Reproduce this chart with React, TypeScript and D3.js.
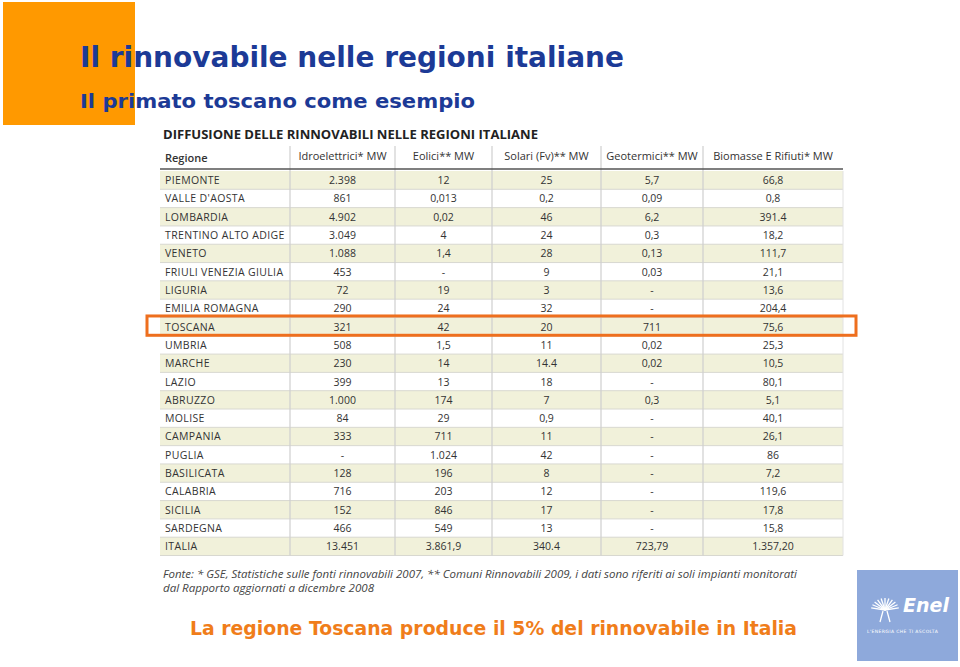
import React from "react";
import * as d3 from "d3";

const regions = [
  "PIEMONTE", "VALLE D'AOSTA", "LOMBARDIA", "TRENTINO ALTO ADIGE", "VENETO",
  "FRIULI VENEZIA GIULIA", "LIGURIA", "EMILIA ROMAGNA", "TOSCANA", "UMBRIA",
  "MARCHE", "LAZIO", "ABRUZZO", "MOLISE", "CAMPANIA", "PUGLIA", "BASILICATA",
  "CALABRIA", "SICILIA", "SARDEGNA", "ITALIA",
];
const columns = [
  "Idroelettrici* MW", "Eolici** MW", "Solari (Fv)** MW", "Geotermici** MW", "Biomasse E Rifiuti* MW",
];
const idroelettrici = ["2.398", "861", "4.902", "3.049", "1.088", "453", "72", "290", "321", "508", "230", "399", "1.000", "84", "333", "-", "128", "716", "152", "466", "13.451"];
const eolici = ["12", "0,013", "0,02", "4", "1,4", "-", "19", "24", "42", "1,5", "14", "13", "174", "29", "711", "1.024", "196", "203", "846", "549", "3.861,9"];
const solari = ["25", "0,2", "46", "24", "28", "9", "3", "32", "20", "11", "14.4", "18", "7", "0,9", "11", "42", "8", "12", "17", "13", "340.4"];
const geotermici = ["5,7", "0,09", "6,2", "0,3", "0,13", "0,03", "-", "-", "711", "0,02", "0,02", "-", "0,3", "-", "-", "-", "-", "-", "-", "-", "723,79"];
const biomasse = ["66,8", "0,8", "391.4", "18,2", "111,7", "21,1", "13,6", "204,4", "75,6", "25,3", "10,5", "80,1", "5,1", "40,1", "26,1", "86", "7,2", "119,6", "17,8", "15,8", "1.357,20"];
const highlighted = "TOSCANA";

const title = "Il rinnovabile nelle regioni italiane";
const subtitle = "Il primato toscano come esempio";
const tableTitle = "DIFFUSIONE DELLE RINNOVABILI NELLE REGIONI ITALIANE";
const footnote1 = "Fonte: * GSE, Statistiche sulle fonti rinnovabili 2007, ** Comuni Rinnovabili 2009, i dati sono riferiti ai soli impianti monitorati";
const footnote2 = "dal Rapporto aggiornati a dicembre 2008";
const bottomText = "La regione Toscana produce il 5% del rinnovabile in Italia";

export default function App() {
  const series = [idroelettrici, eolici, solari, geotermici, biomasse];
  const y = d3.scaleBand<string>().domain(regions).range([171, 555.5]).padding(0);
  const bounds = [160, 290, 395, 492, 601, 703, 843];
  const colX = d3.scaleOrdinal<number, number>().domain(d3.range(6)).range(bounds.slice(0, 6));
  const colW = (i: number) => bounds[i + 1] - bounds[i];
  const tableFont = "'Open Sans', 'Noto Sans', sans-serif";
  const titleFont = "Verdana, 'DejaVu Sans', sans-serif";
  const hy = y(highlighted)!;
  return (
    <svg width={960} height={667} style={{ position: "absolute", left: 0, top: 0, background: "#fff" }}>
      <rect x={3} y={2} width={132} height={123} fill="#FF9900" />
      <text x={80} y={67} fontFamily={titleFont} fontWeight="bold" fontSize={27.5} fill="#1C3A96"
        textLength={544} lengthAdjust="spacingAndGlyphs">{title}</text>
      <text x={80} y={108} fontFamily={titleFont} fontWeight="bold" fontSize={20} fill="#1C3A96"
        textLength={395} lengthAdjust="spacingAndGlyphs">{subtitle}</text>

      <text x={163} y={139} fontFamily={tableFont} fontWeight="bold" fontSize={12.5} fill="#222"
        textLength={375} lengthAdjust="spacingAndGlyphs">{tableTitle}</text>

      {regions.map((r, i) => (
        <rect key={"bg" + r} x={bounds[0]} y={y(r)!} width={bounds[6] - bounds[0]} height={y.bandwidth()}
          fill={i % 2 === 0 ? "#F1F1DA" : "#FFFFFF"} />
      ))}
      {regions.map((r) => (
        <line key={"hl" + r} x1={bounds[0]} x2={bounds[6]} y1={y(r)! + y.bandwidth()} y2={y(r)! + y.bandwidth()} stroke="#D8D8D0" strokeWidth={1} />
      ))}
      {bounds.slice(1, 6).map((b) => (
        <line key={"v" + b} x1={b} x2={b} y1={146} y2={555.5} stroke="#CFCFCF" strokeWidth={1.2} />
      ))}
      <line x1={bounds[6]} x2={bounds[6]} y1={171} y2={555.5} stroke="#E2E2E2" strokeWidth={1} />

      <text x={165} y={162} fontFamily={tableFont} fontWeight="600" fontSize={11} fill="#333">Regione</text>
      {columns.map((c, i) => (
        <text key={c} x={colX(i + 1) + colW(i + 1) / 2} y={160} textAnchor="middle" fontFamily={tableFont} fontSize={11} fill="#333">{c}</text>
      ))}
      <line x1={bounds[0]} x2={bounds[6]} y1={169} y2={169} stroke="#555" strokeWidth={1.5} />

      {regions.map((r) => (
        <text key={"n" + r} x={165} y={y(r)! + y.bandwidth() / 2 + 4} fontFamily={tableFont} fontSize={10.5} fill="#333" letterSpacing={0.35}>{r}</text>
      ))}
      {series.map((s, ci) =>
        s.map((v, ri) => (
          <text key={ci + "-" + ri} x={colX(ci + 1) + colW(ci + 1) / 2} y={y(regions[ri])! + y.bandwidth() / 2 + 4}
            textAnchor="middle" fontFamily={tableFont} fontSize={10.5} fill="#333">{v}</text>
        ))
      )}

      <rect x={147} y={hy - 1.5} width={709} height={y.bandwidth() + 1} fill="none" stroke="#EE6F1E" strokeWidth={3} />

      <text x={163} y={578} fontFamily={tableFont} fontStyle="italic" fontSize={10} fill="#444"
        textLength={634} lengthAdjust="spacingAndGlyphs">{footnote1}</text>
      <text x={163} y={592} fontFamily={tableFont} fontStyle="italic" fontSize={10} fill="#444"
        textLength={211} lengthAdjust="spacingAndGlyphs">{footnote2}</text>

      <text x={190} y={635} fontFamily={titleFont} fontWeight="bold" fontSize={19} fill="#F07D1A"
        textLength={607} lengthAdjust="spacingAndGlyphs">{bottomText}</text>

      <rect x={857} y={570} width={101} height={91} fill="#8EA9DB" />
      <g stroke="#fff" strokeWidth={1.3} fill="none">
        {d3.range(-80, 81, 16).map((a) => {
          const rad = ((a - 90) * Math.PI) / 180;
          return <line key={a} x1={885} y1={610} x2={885 + 14 * Math.cos(rad)} y2={610 + 12 * Math.sin(rad)} />;
        })}
        <path d="M883,611 L880,622 M887,611 L890,622" />
      </g>
      <text x={903} y={612} fontFamily="'DejaVu Sans', sans-serif" fontStyle="italic" fontWeight="bold" fontSize={19} fill="#fff">Enel</text>
      <text x={867} y={633} fontFamily="'DejaVu Sans', sans-serif" fontSize={4.5} fill="#fff" letterSpacing={0.4}>L'ENERGIA CHE TI ASCOLTA</text>
    </svg>
  );
}
